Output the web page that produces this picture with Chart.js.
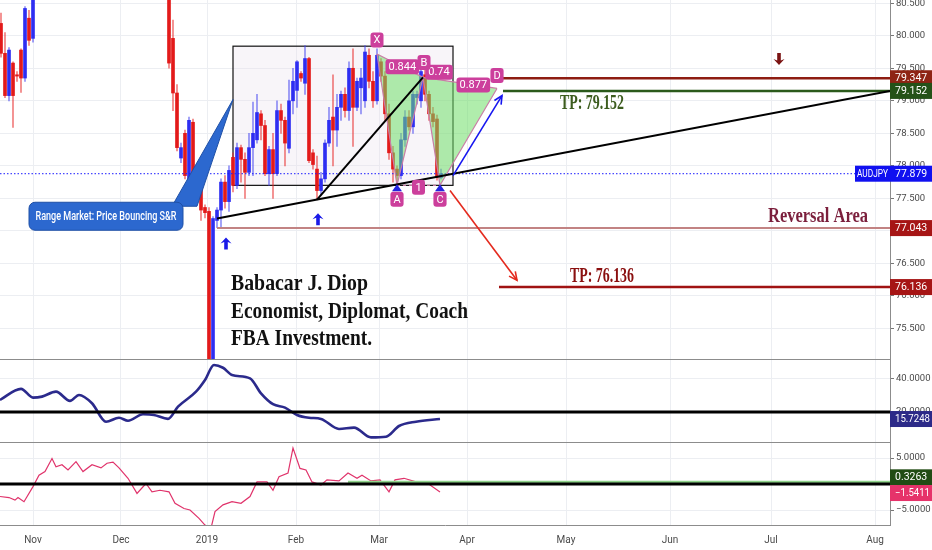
<!DOCTYPE html>
<html>
<head>
<meta charset="utf-8">
<script src="https://cdn.jsdelivr.net/npm/chart.js@4.4.1/dist/chart.umd.min.js"></script>
<style>
  html, body { margin: 0; padding: 0; background: #fff; }
</style>
</head>
<body>
<canvas id="audjpy" width="932" height="550"></canvas>
<script>
// daily AUDJPY candles, bar index 0 = 1 Nov 2018
const firstBar = -8;
const opens = [
  80.19, 79.73, 79.08, 79.58, 79.4, 79.78, 79.35, 80.27, 79.96,
  80.7, 81.1, 81.3, 80.95, 81.25, 81.8, 81.6, 81.9, 82.1, 81.75,
  81.95, 82.5, 82.35, 82.05, 82.5, 82.9, 82.7, 83.2, 82.95, 82.6,
  82.9, 82.75, 83.3, 82.7, 82.2, 82.45, 81.7, 81.35, 81.65, 81.1,
  81.3, 80.9, 81.2,
  80.8, 79.96, 79.12, 78.12, 78.5, 77.6, 78.67, 77.9, 77.75, 77.36,
  77.3, 74.9, 77.16, 77.32, 77.75, 77.45, 78.13, 77.7, 78.28, 78.1,
  77.9, 78.28, 78.4, 78.8, 78.62, 77.88, 78.25, 77.88, 78.85, 78.7,
  78.27, 79.0, 79.16, 79.42, 79.27, 79.65, 78.2, 77.95, 77.62, 77.8,
  78.35, 78.75, 78.55, 78.9, 79.1, 78.85, 79.5, 78.9, 79.2, 79.0,
  79.7, 79.3, 79.0, 79.6, 79.38, 78.8, 78.2, 77.95, 77.85, 78.4,
  78.75, 78.6, 79.05, 79.0, 79.4, 79.1, 78.8, 78.72, 77.82
];
const highs = [
  80.35, 80.05, 79.82, 79.6, 79.45, 79.8, 80.45, 80.39, 80.9,
  81.2, 81.5, 81.6, 81.4, 81.9, 82.2, 82.0, 82.3, 82.2, 82.1,
  82.6, 82.8, 82.5, 82.6, 83.0, 83.1, 83.3, 83.4, 83.1, 83.0,
  83.2, 83.4, 83.5, 82.9, 82.6, 82.5, 81.9, 81.8, 81.7, 81.5,
  81.4, 81.3, 81.3,
  80.95, 80.24, 79.25, 78.35, 78.55, 78.75, 78.72, 77.98, 77.8, 77.4,
  77.36, 77.22, 77.36, 77.8, 77.85, 78.0, 78.2, 78.35, 78.32, 78.2,
  78.5, 78.98, 79.1, 78.85, 78.7, 78.3, 78.5, 79.0, 78.95, 78.75,
  79.32, 79.5, 79.62, 79.45, 79.85, 79.67, 78.25, 78.15, 77.9, 78.4,
  78.9, 79.4, 79.1, 79.15, 79.2, 79.6, 79.8, 79.35, 79.5, 79.85,
  79.8, 79.45, 79.8, 79.65, 79.45, 78.95, 78.3, 78.0, 78.5, 78.85,
  78.85, 79.15, 79.15, 79.5, 79.5, 79.15, 78.9, 78.78, 77.95
];
const lows = [
  79.67, 79.05, 79.0, 78.59, 79.3, 79.13, 79.3, 79.85, 79.9,
  80.6, 80.9, 80.8, 80.7, 81.1, 81.5, 81.3, 81.7, 81.6, 81.5,
  81.9, 82.2, 81.9, 82.0, 82.4, 82.6, 82.65, 82.8, 82.5, 82.5,
  82.6, 82.7, 82.6, 82.1, 81.9, 81.6, 81.2, 81.2, 81.0, 80.9,
  80.8, 80.7, 80.7,
  79.5, 78.85, 78.23, 78.05, 77.8, 77.5, 77.62, 77.58, 77.16, 77.2,
  72.5, 74.5, 77.05, 77.05, 77.35, 77.3, 77.6, 77.65, 77.75, 77.5,
  77.85, 77.85, 78.35, 78.4, 77.85, 77.7, 77.5, 77.85, 78.5, 78.0,
  78.2, 78.8, 78.9, 79.3, 79.1, 78.05, 77.95, 77.48, 77.55, 77.75,
  78.3, 78.0, 78.3, 78.7, 78.75, 78.7, 78.3, 78.85, 78.8, 78.9,
  79.2, 78.9, 78.95, 79.3, 78.7, 78.1, 77.75, 77.7, 77.8, 78.3,
  78.55, 78.5, 78.95, 78.9, 79.0, 78.7, 78.6, 77.78, 77.8
];
const closes = [
  79.73, 79.08, 79.78, 79.08, 79.38, 79.35, 80.42, 79.93, 80.7,
  81.1, 81.3, 80.95, 81.25, 81.8, 81.6, 81.9, 82.1, 81.75, 81.95,
  82.5, 82.35, 82.05, 82.5, 82.9, 82.7, 83.2, 82.95, 82.6, 82.9,
  82.75, 83.3, 82.7, 82.2, 82.45, 81.7, 81.35, 81.65, 81.1, 81.3,
  80.9, 81.2, 80.8,
  79.58, 79.12, 78.28, 78.28, 77.85, 78.7, 77.7, 77.62, 77.32, 77.28,
  74.6, 77.19, 77.32, 77.75, 77.45, 77.93, 77.7, 78.28, 78.1, 77.9,
  78.28, 78.5, 78.82, 78.62, 77.88, 78.25, 77.88, 78.85, 78.7, 78.35,
  79.0, 79.3, 79.6, 79.35, 79.65, 78.08, 78.02, 77.62, 77.8, 78.35,
  78.7, 78.55, 78.9, 79.1, 78.85, 79.5, 78.9, 79.3, 79.35, 79.75,
  79.3, 79.0, 79.7, 79.38, 78.8, 78.2, 77.95, 77.85, 78.4, 78.75,
  78.6, 79.1, 79.1, 79.45, 79.1, 78.8, 78.68, 77.82, 77.879
];

// time axis (bar index of each month start) and price ticks
const monthTicks = [0, 22, 43.5, 65.75, 86.5, 108.5, 133.25, 159.25, 184.5, 210.5];
const monthLabels = ['Nov', 'Dec', '2019', 'Feb', 'Mar', 'Apr', 'May', 'Jun', 'Jul', 'Aug'];
const priceTicks = [75.5, 76, 76.5, 77, 77.5, 78, 78.5, 79, 79.5, 80, 80.5];
const adxTicks = [20, 40];
const oscTicks = [-5, 0, 5];

// indicator panes
const adxBars = [-8.25, -3, 0, 2.25, 5.75, 9.25, 11.5, 14.75, 18.25, 21.5, 23.75, 27.5, 30.25, 33.75,
  36.25, 40.75, 43, 45.25, 47.5, 49.75, 54.25, 57, 60, 63, 66, 69, 72, 76.5, 80.25, 84.5, 88.25,
  91.5, 95.75, 101.75];
const adxValues = [27.3, 34.0, 28.7, 29.3, 32.3, 26.7, 30.3, 25.3, 14.1, 16.5, 14.7, 18.6, 18.2, 15.8,
  23.2, 32.3, 39.4, 48.5, 46.8, 42.4, 40.4, 31.3, 24.7, 22.6, 18.2, 16.5, 15.8, 9.7, 10.5, 4.6, 5.0,
  11.5, 14.1, 15.72];
const oscBars = [-8.25, -6, -4.5, -3.75, -2.25, 0, 1.5, 3, 4.75, 5.75, 7.25, 8.75, 10.75, 12.5, 14.75,
  17, 18.5, 20, 21.5, 23.75, 26, 28.25, 29.75, 31.75, 34, 35.5, 37.75, 39.25, 41.5, 43, 44.5, 45.5,
  47.5, 49.75, 52, 54.25, 56, 58.5, 60, 61.5, 63.75, 65, 66.75, 68.25, 69.75, 72, 73.5, 76.5, 78.75,
  81, 82.25, 84.5, 86.75, 89, 90.5, 92.75, 95.75, 98.75, 101.75];
const oscValues = [-2.4, -2.6, -3.1, -2.6, -3.4, -0.5, 1.7, 2.4, 4.9, 3.3, 3.7, 2.7, 4.3, 2.4, 3.7,
  3.1, 4.0, 4.2, 3.1, 1.1, -1.8, 0.1, -1.5, -1.2, -1.5, -3.7, -4.7, -5.0, -6.6, -7.9, -8.5, -5.3,
  -4.0, -3.4, -3.7, -2.4, 0.4, 0.4, -1.2, 1.4, 2.1, 6.9, 3.0, 2.7, 0.4, -0.2, 0.8, 0.6, 2.1,
  1.1, 1.7, 0.6, 0.8, -1.5, 0.8, 1.1, 0.4, 0.1, -1.54];

// levels
const lastPrice = 77.879;
const shortLevel = 79.347;
const tpUp = 79.152;
const reversalLevel = 77.043;
const tpDown = 76.136;
const adxLevel = 20, adxLast = 15.7248;
const oscLevel = 0, oscSignal = 0.3263, oscLast = -1.5411;

// harmonic pattern X A B C D
const patternBars = [86, 91, 97.5, 101.75, 116];
const patternPrices = [79.72, 77.7, 79.36, 77.7, 79.19];

const barIndex = opens.map((o, k) => firstBar + k);
const isUp = opens.map((o, k) => closes[k] >= o);
const gridColor = '#eceef2';

Chart.defaults.font.family = 'Roboto, "DejaVu Sans", sans-serif';
Chart.defaults.font.size = 9.5;
Chart.defaults.color = '#4a4a4a';

function fitY(s) { s.width = 42; s.paddingTop = 0; s.paddingBottom = 0; }

function arrowLine(ctx, x1, y1, x2, y2, color) {
  const a = Math.atan2(y2 - y1, x2 - x1), h = 9;
  ctx.strokeStyle = color; ctx.lineWidth = 1.6;
  ctx.beginPath(); ctx.moveTo(x1, y1); ctx.lineTo(x2, y2); ctx.stroke();
  ctx.beginPath();
  ctx.moveTo(x2 - h * Math.cos(a - 0.45), y2 - h * Math.sin(a - 0.45));
  ctx.lineTo(x2, y2);
  ctx.lineTo(x2 - h * Math.cos(a + 0.45), y2 - h * Math.sin(a + 0.45));
  ctx.stroke();
}

function markArrow(ctx, x, y, d, color) {
  // tip at (x, y), d = 1 points up, -1 points down
  ctx.fillStyle = color;
  ctx.beginPath();
  ctx.moveTo(x, y);
  ctx.lineTo(x + 5.5, y + 6 * d);
  ctx.lineTo(x + 1.8, y + 4.5 * d);
  ctx.lineTo(x + 1.8, y + 12 * d);
  ctx.lineTo(x - 1.8, y + 12 * d);
  ctx.lineTo(x - 1.8, y + 4.5 * d);
  ctx.lineTo(x - 5.5, y + 6 * d);
  ctx.closePath();
  ctx.fill();
}

function pinkTag(ctx, text, cx, cy) {
  ctx.font = '11px Roboto';
  const w = Math.max(13, ctx.measureText(text).width + 6), h = 15;
  ctx.fillStyle = '#cc3f9c';
  ctx.beginPath(); ctx.roundRect(cx - w / 2, cy - h / 2, w, h, 3); ctx.fill();
  ctx.fillStyle = '#fff'; ctx.textAlign = 'center'; ctx.textBaseline = 'middle';
  ctx.fillText(text, cx, cy + 0.5);
}

function axisTag(ctx, chart, text, cy, bg) {
  const left = chart.chartArea.right;
  ctx.fillStyle = bg;
  ctx.fillRect(left, cy - 8, 42, 16);
  ctx.fillStyle = '#fff'; ctx.font = '10.5px Roboto';
  ctx.textAlign = 'left'; ctx.textBaseline = 'middle';
  ctx.fillText(text, left + 5, cy + 0.5, 35);
}

const drawings = {
  id: 'drawings',
  beforeDatasetsDraw(chart) {
    const {ctx, scales: {x, y}} = chart;
    const X = v => x.getPixelForValue(v), Y = v => y.getPixelForValue(v);
    ctx.save();
    ctx.beginPath(); ctx.rect(x.left, y.top, x.width, y.height); ctx.clip();
    // range box
    const bx = X(50), by = Y(79.84), bw = X(105) - bx, bh = Y(77.7) - by;
    ctx.fillStyle = 'rgba(232,222,236,0.3)';
    ctx.fillRect(bx, by, bw, bh);
    ctx.strokeStyle = '#111'; ctx.lineWidth = 1.2;
    ctx.strokeRect(bx, by, bw, bh);
    ctx.restore();
  },
  afterDatasetsDraw(chart) {
    const {ctx, scales: {x, y, y2, y3}} = chart;
    const X = v => x.getPixelForValue(v), Y = v => y.getPixelForValue(v);
    ctx.save();
    // indicator levels
    ctx.beginPath(); ctx.rect(x.left, y2.top, x.width, y3.bottom - y2.top); ctx.clip();
    ctx.strokeStyle = '#8fd38a'; ctx.lineWidth = 3;
    ctx.beginPath(); ctx.moveTo(X(78.75), y3.getPixelForValue(oscSignal)); ctx.lineTo(x.right, y3.getPixelForValue(oscSignal)); ctx.stroke();
    ctx.strokeStyle = '#000'; ctx.lineWidth = 3;
    ctx.beginPath(); ctx.moveTo(x.left, y2.getPixelForValue(adxLevel)); ctx.lineTo(x.right, y2.getPixelForValue(adxLevel)); ctx.stroke();
    ctx.beginPath(); ctx.moveTo(x.left, y3.getPixelForValue(oscLevel)); ctx.lineTo(x.right, y3.getPixelForValue(oscLevel)); ctx.stroke();
    ctx.restore();

    ctx.save();
    ctx.beginPath(); ctx.rect(x.left, y.top, x.width, y.height); ctx.clip();

    // last price dotted line
    ctx.strokeStyle = '#1a1aff'; ctx.lineWidth = 1; ctx.setLineDash([1.5, 2]);
    ctx.beginPath(); ctx.moveTo(x.left, Y(lastPrice)); ctx.lineTo(x.right, Y(lastPrice)); ctx.stroke();
    ctx.setLineDash([]);

    // horizontal levels
    const hline = (from, v, color, w) => {
      ctx.strokeStyle = color; ctx.lineWidth = w;
      ctx.beginPath(); ctx.moveTo(X(from), Y(v)); ctx.lineTo(x.right, Y(v)); ctx.stroke();
    };
    hline(46, reversalLevel, '#c28383', 2);
    hline(116, shortLevel, '#8e1d12', 2.5);
    hline(117.5, tpUp, '#2b5a1b', 2.5);
    hline(116.5, tpDown, '#a01212', 2.5);

    // harmonic pattern
    const P = patternBars.map((b, k) => ({x: X(b), y: Y(patternPrices[k])}));
    ctx.fillStyle = 'rgba(112,222,104,0.55)';
    [[0, 1, 2], [2, 3, 4]].forEach(t => {
      ctx.beginPath(); ctx.moveTo(P[t[0]].x, P[t[0]].y);
      ctx.lineTo(P[t[1]].x, P[t[1]].y); ctx.lineTo(P[t[2]].x, P[t[2]].y); ctx.closePath(); ctx.fill();
    });
    ctx.strokeStyle = '#c97ea6'; ctx.lineWidth = 1.2;
    ctx.beginPath();
    P.forEach((p, k) => k ? ctx.lineTo(p.x, p.y) : ctx.moveTo(p.x, p.y));
    ctx.moveTo(P[0].x, P[0].y); ctx.lineTo(P[2].x, P[2].y); ctx.lineTo(P[4].x, P[4].y);
    ctx.stroke();
    ctx.setLineDash([3, 3]);
    ctx.beginPath(); ctx.moveTo(P[1].x, P[1].y); ctx.lineTo(P[3].x, P[3].y); ctx.stroke();
    ctx.setLineDash([]);

    // trend lines
    ctx.strokeStyle = '#000'; ctx.lineWidth = 2;
    ctx.beginPath(); ctx.moveTo(X(46), Y(77.19)); ctx.lineTo(x.right, Y(tpUp)); ctx.stroke();
    ctx.beginPath(); ctx.moveTo(X(71), Y(77.48)); ctx.lineTo(P[2].x, P[2].y); ctx.stroke();

    // projection arrows
    arrowLine(ctx, X(105), Y(77.85), X(117.25), Y(79.08), '#1616f0');
    arrowLine(ctx, X(104.25), Y(77.62), X(121), Y(76.24), '#e42a1e');

    // marks
    markArrow(ctx, X(48.25), Y(76.9), 1, '#1a1ae8');
    markArrow(ctx, X(71.25), Y(77.27), 1, '#1a1ae8');
    markArrow(ctx, X(186.5), Y(79.55), -1, '#7a1212');
    [1, 3].forEach(k => {
      ctx.fillStyle = '#2424e0';
      ctx.beginPath(); ctx.moveTo(P[k].x, P[k].y - 1); ctx.lineTo(P[k].x + 5, P[k].y + 6);
      ctx.lineTo(P[k].x - 5, P[k].y + 6); ctx.closePath(); ctx.fill();
    });

    // pattern labels
    const mid = (a, b, t) => ({x: a.x + (b.x - a.x) * t, y: a.y + (b.y - a.y) * t});
    let m = mid(P[0], P[2], 0.55); pinkTag(ctx, '0.844', m.x, m.y);
    m = mid(P[0], P[4], 0.5); pinkTag(ctx, '0.74', m.x + 2, m.y + 1);
    m = mid(P[2], P[4], 0.68); pinkTag(ctx, '0.877', m.x, m.y);
    m = mid(P[1], P[3], 0.5); pinkTag(ctx, '1', m.x, m.y + 2);
    pinkTag(ctx, 'X', P[0].x, P[0].y - 14);
    pinkTag(ctx, 'A', P[1].x, P[1].y + 14);
    pinkTag(ctx, 'B', P[2].x + 1, P[2].y - 15);
    pinkTag(ctx, 'C', P[3].x, P[3].y + 14);
    pinkTag(ctx, 'D', P[4].x, P[4].y - 13);

    // callout
    const cx0 = X(-1), cy0 = Y(77.44), cw = 154, ch = 28;
    ctx.fillStyle = '#2c68cf'; ctx.strokeStyle = '#1f50a6'; ctx.lineWidth = 1;
    ctx.beginPath();
    ctx.moveTo(cx0 + cw - 11, cy0 + 4); ctx.lineTo(X(50), Y(79.02)); ctx.lineTo(cx0 + cw + 14, cy0 + 4);
    ctx.closePath(); ctx.fill(); ctx.stroke();
    ctx.beginPath(); ctx.roundRect(cx0, cy0, cw, ch, 6); ctx.fill(); ctx.stroke();
    ctx.fillStyle = '#fff'; ctx.font = '500 12px Roboto'; ctx.textAlign = 'center'; ctx.textBaseline = 'middle';
    ctx.fillText('Range Market: Price Bouncing S&R', cx0 + cw / 2, cy0 + ch / 2 + 1, 141);

    // texts (squeezed serif, like the original screenshot)
    ctx.textAlign = 'left'; ctx.textBaseline = 'middle';
    ctx.font = 'bold 20px "Liberation Serif", serif';
    ctx.fillStyle = '#3c5c1e'; ctx.fillText('TP: 79.152', X(131.75), Y(tpUp) + 13, 64);
    ctx.fillStyle = '#8a0f0f'; ctx.fillText('TP: 76.136', X(134.25), Y(tpDown) - 10, 64);
    ctx.font = 'bold 21px "Liberation Serif", serif';
    ctx.fillStyle = '#7b1f3c'; ctx.fillText('Reversal Area', X(183.75), Y(reversalLevel) - 12, 100);
    ctx.font = 'bold 24px "Liberation Serif", serif'; ctx.fillStyle = '#111';
    [['Babacar J. Diop', 137], ['Economist, Diplomat, Coach', 237], ['FBA Investment.', 141]].forEach((t, k) => {
      ctx.fillText(t[0], X(49.5), Y(76.18) + k * 27.5, t[1]);
    });
    ctx.restore();
  },
  afterDraw(chart) {
    const {ctx, scales: {y, y2, y3}, chartArea} = chart;
    ctx.save();
    ctx.strokeStyle = '#8c8c8c'; ctx.lineWidth = 1;
    [y.bottom, y2.bottom].forEach(b => {
      ctx.beginPath(); ctx.moveTo(0, Math.round(b) + 0.5); ctx.lineTo(chartArea.right, Math.round(b) + 0.5); ctx.stroke();
    });
    axisTag(ctx, chart, shortLevel.toFixed(3), y.getPixelForValue(shortLevel), '#8e2414');
    axisTag(ctx, chart, tpUp.toFixed(3), y.getPixelForValue(tpUp), '#245218');
    axisTag(ctx, chart, reversalLevel.toFixed(3), y.getPixelForValue(reversalLevel), '#a61515');
    axisTag(ctx, chart, tpDown.toFixed(3), y.getPixelForValue(tpDown), '#a61515');
    axisTag(ctx, chart, lastPrice.toFixed(3), y.getPixelForValue(lastPrice), '#1010f0');
    const ly = y.getPixelForValue(lastPrice);
    ctx.fillStyle = '#1010f0'; ctx.fillRect(chartArea.right - 35, ly - 8, 35, 16);
    ctx.fillStyle = '#fff'; ctx.font = '10px Roboto'; ctx.textAlign = 'center';
    ctx.fillText('AUDJPY', chartArea.right - 17.5, ly + 0.5, 31);
    axisTag(ctx, chart, adxLast.toFixed(4), y2.getPixelForValue(adxLast), '#2c2a88');
    axisTag(ctx, chart, oscSignal.toFixed(4), y3.getPixelForValue(oscSignal) - 5, '#214c14');
    axisTag(ctx, chart, '\u2212' + Math.abs(oscLast).toFixed(4), y3.getPixelForValue(oscLast) + 1, '#e6336a');
    ctx.restore();
  }
};

const chart = new Chart(document.getElementById('audjpy'), {
  type: 'bar',
  data: {
    datasets: [
      {
        label: 'wick',
        data: barIndex.map((b, k) => ({x: b, y: [lows[k], highs[k]]})),
        backgroundColor: isUp.map(u => u ? 'rgba(70,70,240,0.6)' : 'rgba(232,40,40,0.6)'),
        barThickness: 1, grouped: false, yAxisID: 'y', order: 2
      },
      {
        label: 'body',
        data: barIndex.map((b, k) => ({x: b, y: [opens[k], closes[k]]})),
        backgroundColor: isUp.map(u => u ? '#2e2ef2' : '#e31a1a'),
        barThickness: 3, minBarLength: 1, grouped: false, yAxisID: 'y', order: 1
      },
      {
        type: 'line', label: 'ADX',
        data: adxBars.map((b, k) => ({x: b, y: adxValues[k]})),
        borderColor: '#2b2a8c', borderWidth: 2.6, pointRadius: 0,
        cubicInterpolationMode: 'monotone', yAxisID: 'y2'
      },
      {
        type: 'line', label: 'Momentum',
        data: oscBars.map((b, k) => ({x: b, y: oscValues[k]})),
        borderColor: '#e0336b', borderWidth: 1.2, pointRadius: 0, tension: 0, yAxisID: 'y3'
      }
    ]
  },
  options: {
    responsive: false,
    animation: false,
    layout: { padding: 0 },
    plugins: { legend: { display: false }, tooltip: { enabled: false } },
    scales: {
      x: {
        type: 'linear', min: -8.25, max: 214.25, offset: false,
        grid: { color: gridColor, drawTicks: false, offset: false },
        border: { color: '#8c8c8c' },
        afterBuildTicks: s => { s.ticks = monthTicks.map(v => ({value: v})); },
        afterFit: s => { s.height = 25; s.paddingLeft = 0; s.paddingRight = 0; },
        ticks: { autoSkip: false, maxRotation: 0, padding: 9, color: '#4a4a4a', font: { size: 10 },
          callback: (v, k) => monthLabels[k] }
      },
      y: {
        position: 'right', stack: 'panes', stackWeight: 359, min: 75.03, max: 80.55,
        afterBuildTicks: s => { s.ticks = priceTicks.map(v => ({value: v})); },
        ticks: { padding: 2, callback: v => v.toFixed(3) },
        grid: { color: gridColor, tickColor: '#777', tickLength: 4 },
        border: { color: '#8c8c8c' },
        afterFit: fitY
      },
      y2: {
        position: 'right', stack: 'panes', stackWeight: 83, min: 1.8, max: 52.1,
        afterBuildTicks: s => { s.ticks = adxTicks.map(v => ({value: v})); },
        ticks: { padding: 2, callback: v => v.toFixed(4) },
        grid: { color: gridColor, tickColor: '#777', tickLength: 4 },
        border: { color: '#8c8c8c' },
        afterFit: fitY
      },
      y3: {
        position: 'right', stack: 'panes', stackWeight: 83, min: -7.88, max: 8.08,
        afterBuildTicks: s => { s.ticks = oscTicks.map(v => ({value: v})); },
        ticks: { padding: 2, callback: v => (v < 0 ? '\u2212' : '') + Math.abs(v).toFixed(4) },
        grid: { color: gridColor, tickColor: '#777', tickLength: 4 },
        border: { color: '#8c8c8c' },
        afterFit: fitY
      }
    }
  },
  plugins: [drawings]
});
</script>
</body>
</html>
